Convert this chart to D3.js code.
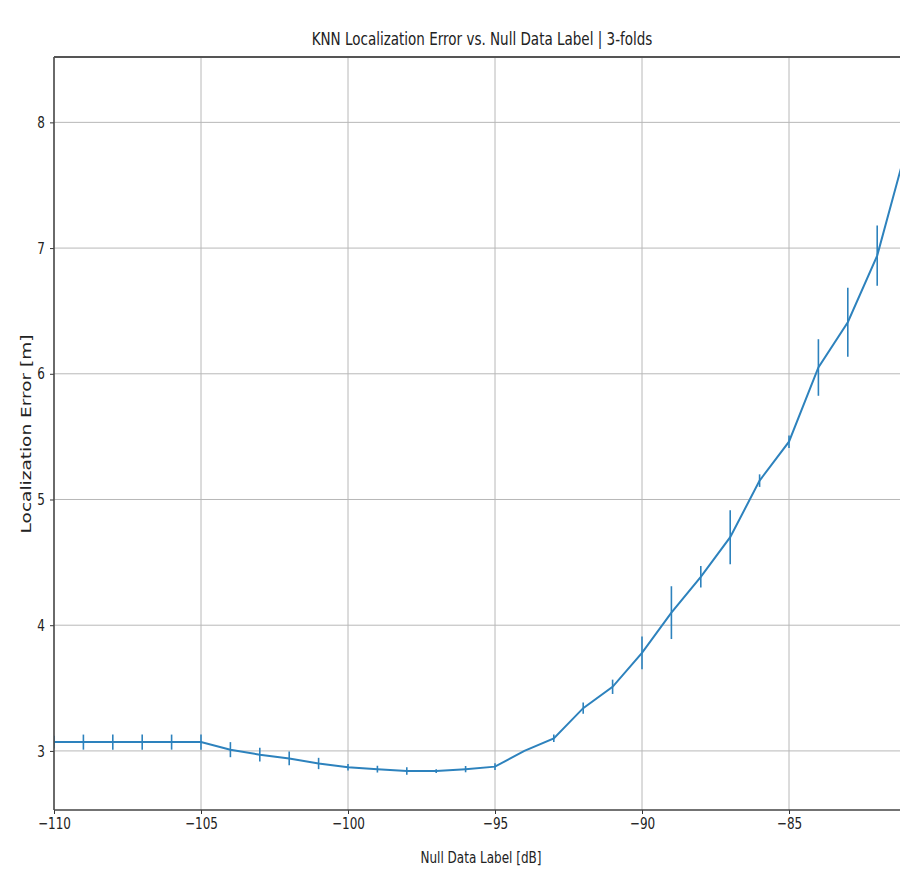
<!DOCTYPE html>
<html lang="en">
<head>
<meta charset="UTF-8">
<title>KNN Localization Error</title>
<style>
  body { margin: 0; background: #fff; }
  svg { display: block; font-family: "DejaVu Sans", sans-serif; }
</style>
</head>
<body>
<script src="https://d3js.org/d3.v7.min.js"></script>
<script>
// data
var nullLabels = [-110, -109, -108, -107, -106, -105, -104, -103, -102, -101, -100, -99, -98, -97, -96,
                  -95, -94, -93, -92, -91, -90, -89, -88, -87, -86, -85, -84, -83, -82, -81];
var meanError = [3.07, 3.07, 3.07, 3.07, 3.07, 3.07, 3.01, 2.97, 2.94, 2.90, 2.87, 2.855, 2.84, 2.84, 2.855,
                 2.875, 3.00, 3.10, 3.34, 3.51, 3.78, 4.10, 4.385, 4.70, 5.15, 5.46, 6.05, 6.41, 6.94, 7.80];
var stdError = [0.05, 0.06, 0.06, 0.06, 0.06, 0.06, 0.06, 0.055, 0.055, 0.045, 0.025, 0.027, 0.03, 0.015, 0.025,
                0.027, 0.0, 0.03, 0.045, 0.057, 0.13, 0.21, 0.085, 0.215, 0.05, 0.05, 0.225, 0.275, 0.24, 0.3];
var xTicks = [-110, -105, -100, -95, -90, -85];
var yTicks = [3, 4, 5, 6, 7, 8];

var W = 900, H = 878;
var plotLeft = 54, plotTop = 57, plotBottom = 810;
var blue = "#2d82bd";
var squash = 0.75; // the picture's text is narrowed horizontally

var svg = d3.select("body").append("svg")
    .attr("width", W)
    .attr("height", H);

var x = d3.scaleLinear().domain([-110, -81]).range([plotLeft, plotLeft + 29 * 29.4]);
var y = d3.scaleLinear().domain([2.53, 8.52]).range([plotBottom, plotTop]);

svg.append("clipPath").attr("id", "plotclip")
    .append("rect").attr("x", plotLeft).attr("y", plotTop)
    .attr("width", W - plotLeft).attr("height", plotBottom - plotTop);

// grid
var grid = svg.append("g").attr("stroke", "#b8b8b8").attr("stroke-width", 1);
grid.selectAll(".gx").data(xTicks).enter().append("line")
    .attr("x1", function(d) { return x(d); }).attr("x2", function(d) { return x(d); })
    .attr("y1", plotTop).attr("y2", plotBottom);
grid.selectAll(".gy").data(yTicks).enter().append("line")
    .attr("x1", plotLeft).attr("x2", W)
    .attr("y1", function(d) { return y(d); }).attr("y2", function(d) { return y(d); });

// line + error bars
var plot = svg.append("g").attr("clip-path", "url(#plotclip)");
var pts = nullLabels.map(function(d, i) { return {x: d, v: meanError[i], e: stdError[i]}; });

plot.selectAll(".err").data(pts).enter().append("line")
    .attr("stroke", blue).attr("stroke-width", 1.6)
    .attr("x1", function(d) { return x(d.x); }).attr("x2", function(d) { return x(d.x); })
    .attr("y1", function(d) { return y(d.v - d.e); })
    .attr("y2", function(d) { return y(d.v + d.e); });

plot.append("path").datum(pts)
    .attr("fill", "none").attr("stroke", blue).attr("stroke-width", 2)
    .attr("d", d3.line().x(function(d) { return x(d.x); }).y(function(d) { return y(d.v); }));

// axes
var xAxis = svg.append("g")
    .attr("transform", "translate(0," + plotBottom + ")")
    .call(d3.axisBottom(x).tickValues(xTicks).tickSize(4).tickPadding(4)
        .tickFormat(function(d) { return "\u2212" + Math.abs(d); }));
var yAxis = svg.append("g")
    .attr("transform", "translate(" + plotLeft + ",0)")
    .call(d3.axisLeft(y).tickValues(yTicks).tickSize(4).tickPadding(5).tickFormat(d3.format("d")));

[xAxis, yAxis].forEach(function(g) {
    g.select(".domain").remove();
    g.selectAll("line").attr("stroke", "#333");
    g.selectAll("text").attr("font-size", 16).attr("fill", "#222")
        .attr("font-family", "DejaVu Sans, sans-serif");
});

// spines
svg.append("line").attr("x1", plotLeft).attr("x2", plotLeft).attr("y1", plotTop).attr("y2", plotBottom)
    .attr("stroke", "#444").attr("stroke-width", 1.5);
svg.append("line").attr("x1", plotLeft).attr("x2", W).attr("y1", plotBottom).attr("y2", plotBottom)
    .attr("stroke", "#444").attr("stroke-width", 1.5);
svg.append("line").attr("x1", plotLeft).attr("x2", W).attr("y1", plotTop).attr("y2", plotTop)
    .attr("stroke", "#555").attr("stroke-width", 2);

// titles
svg.append("text").attr("class", "sq")
    .attr("x", 482).attr("y", 45).attr("text-anchor", "middle")
    .attr("font-size", 18).attr("fill", "#222")
    .text("KNN Localization Error vs. Null Data Label | 3-folds");

svg.append("text").attr("class", "sq")
    .attr("x", 481).attr("y", 863).attr("text-anchor", "middle")
    .attr("font-size", 16).attr("fill", "#222")
    .text("Null Data Label [dB]");

svg.append("text")
    .attr("transform", "translate(31,434) scale(" + squash + ",1) rotate(-90)")
    .attr("text-anchor", "middle")
    .attr("font-size", 18.5).attr("fill", "#222")
    .text("Localization Error [m]");

// narrow the horizontal text like the picture
svg.selectAll(".sq, .tick text").each(function() {
    var len = this.getComputedTextLength();
    d3.select(this).attr("textLength", len * squash).attr("lengthAdjust", "spacingAndGlyphs");
});
</script>
</body>
</html>
